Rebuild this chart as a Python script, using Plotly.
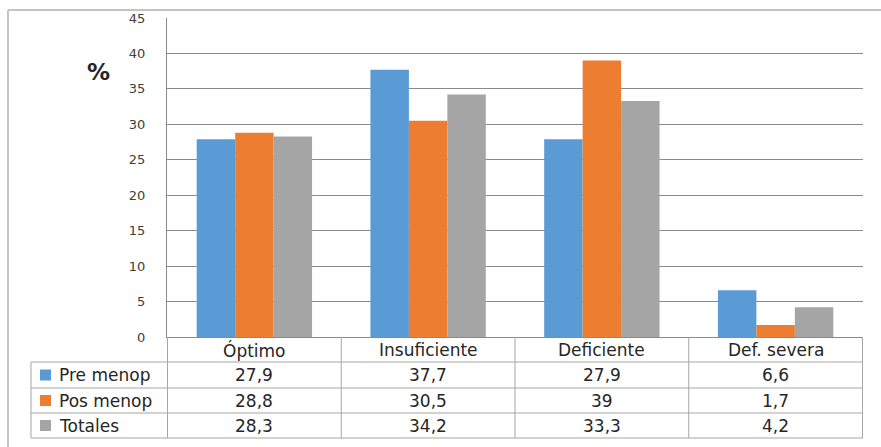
import plotly.graph_objects as go

categories = ["Óptimo", "Insuficiente", "Deficiente", "Def. severa"]
series_names = ["Pre menop", "Pos menop", "Totales"]
pre_menop = [27.9, 37.7, 27.9, 6.6]
pos_menop = [28.8, 30.5, 39.0, 1.7]
totales = [28.3, 34.2, 33.3, 4.2]
colors = ["#5B9BD5", "#ED7D31", "#A5A5A5"]
y_ticks = [0, 5, 10, 15, 20, 25, 30, 35, 40, 45]

series_values = [pre_menop, pos_menop, totales]

FONT = "DejaVu Sans"
W_FIG, H_FIG = 881, 447
L, R, T, B = 167, 863, 18, 337
PW, PH = R - L, B - T


def px(x):
    return (x - L) / PW


def py(y):
    return (B - y) / PH


def fmt(v):
    s = f"{v:.1f}"
    if s.endswith(".0"):
        s = s[:-2]
    return s.replace(".", ",")


fig = go.Figure()
for name, vals, col in zip(series_names, series_values, colors):
    fig.add_trace(go.Bar(x=categories, y=vals, name=name, marker_color=col,
                         marker_line_width=0, showlegend=False))

shapes = []
annotations = []
grid_col = "#8a8a8a"
tbl_col = "#a6a6a6"
txt_col = "#262626"

# outer chart frame
shapes.append(dict(type="line", xref="paper", yref="paper", x0=px(8), x1=px(8),
                   y0=py(10), y1=py(460), line=dict(color="#c4c4c4", width=2)))
shapes.append(dict(type="line", xref="paper", yref="paper", x0=px(8), x1=px(900),
                   y0=py(10), y1=py(10), line=dict(color="#c4c4c4", width=2)))

# data table grid
row_lines = [362, 388, 413, 438]
for yy in row_lines:
    shapes.append(dict(type="line", xref="paper", yref="paper", x0=px(31), x1=px(863),
                       y0=py(yy), y1=py(yy), line=dict(color=tbl_col, width=1)))
shapes.append(dict(type="line", xref="paper", yref="paper", x0=px(31), x1=px(31),
                   y0=py(362), y1=py(438), line=dict(color=tbl_col, width=1)))
for i in range(len(categories) + 1):
    shapes.append(dict(type="line", xref="x", yref="paper", x0=i - 0.5, x1=i - 0.5,
                       y0=0, y1=py(438), line=dict(color=tbl_col, width=1)))

cell_font = dict(family=FONT, size=17, color=txt_col)

# category headers
for c in categories:
    annotations.append(dict(x=c, y=py(350), xref="x", yref="paper", text=c,
                            xanchor="center", yanchor="middle",
                            showarrow=False, font=cell_font))

# table rows: legend key, series name and values
row_centers = [375, 400.5, 425.5]
for name, vals, col, yc in zip(series_names, series_values, colors, row_centers):
    shapes.append(dict(type="rect", xref="paper", yref="paper", x0=px(40), x1=px(51),
                       y0=py(yc + 5.5), y1=py(yc - 5.5), fillcolor=col, line=dict(width=0)))
    annotations.append(dict(x=px(57), y=py(yc), xref="paper", yref="paper", text=name,
                            xanchor="left", yanchor="middle", showarrow=False,
                            font=cell_font))
    for c, v in zip(categories, vals):
        annotations.append(dict(x=c, y=py(yc), xref="x", yref="paper", text=fmt(v),
                                xanchor="center", yanchor="middle",
                                showarrow=False, font=cell_font))

# axis title
annotations.append(dict(x=px(98), y=py(72), xref="paper", yref="paper", text="<b>%</b>",
                        xanchor="center", yanchor="middle",
                        showarrow=False, font=dict(family=FONT, size=23, color=txt_col)))

fig.update_layout(
    width=W_FIG, height=H_FIG, autosize=False,
    margin=dict(l=L, r=W_FIG - R, t=T, b=H_FIG - B, pad=0),
    paper_bgcolor="white", plot_bgcolor="white",
    barmode="group", bargap=0.336, bargroupgap=0,
    shapes=shapes, annotations=annotations,
    xaxis=dict(showticklabels=False, showgrid=False, showline=True, linecolor=grid_col,
               linewidth=1, zeroline=False, fixedrange=True),
    yaxis=dict(range=[0, 45], tickvals=y_ticks, showgrid=True, gridcolor=grid_col,
               gridwidth=1, showline=True, linecolor=grid_col, linewidth=1, zeroline=False,
               ticks="", ticklabelstandoff=18,
               tickfont=dict(family=FONT, size=13, color="#404040")),
)

fig.write_html("out.html")
